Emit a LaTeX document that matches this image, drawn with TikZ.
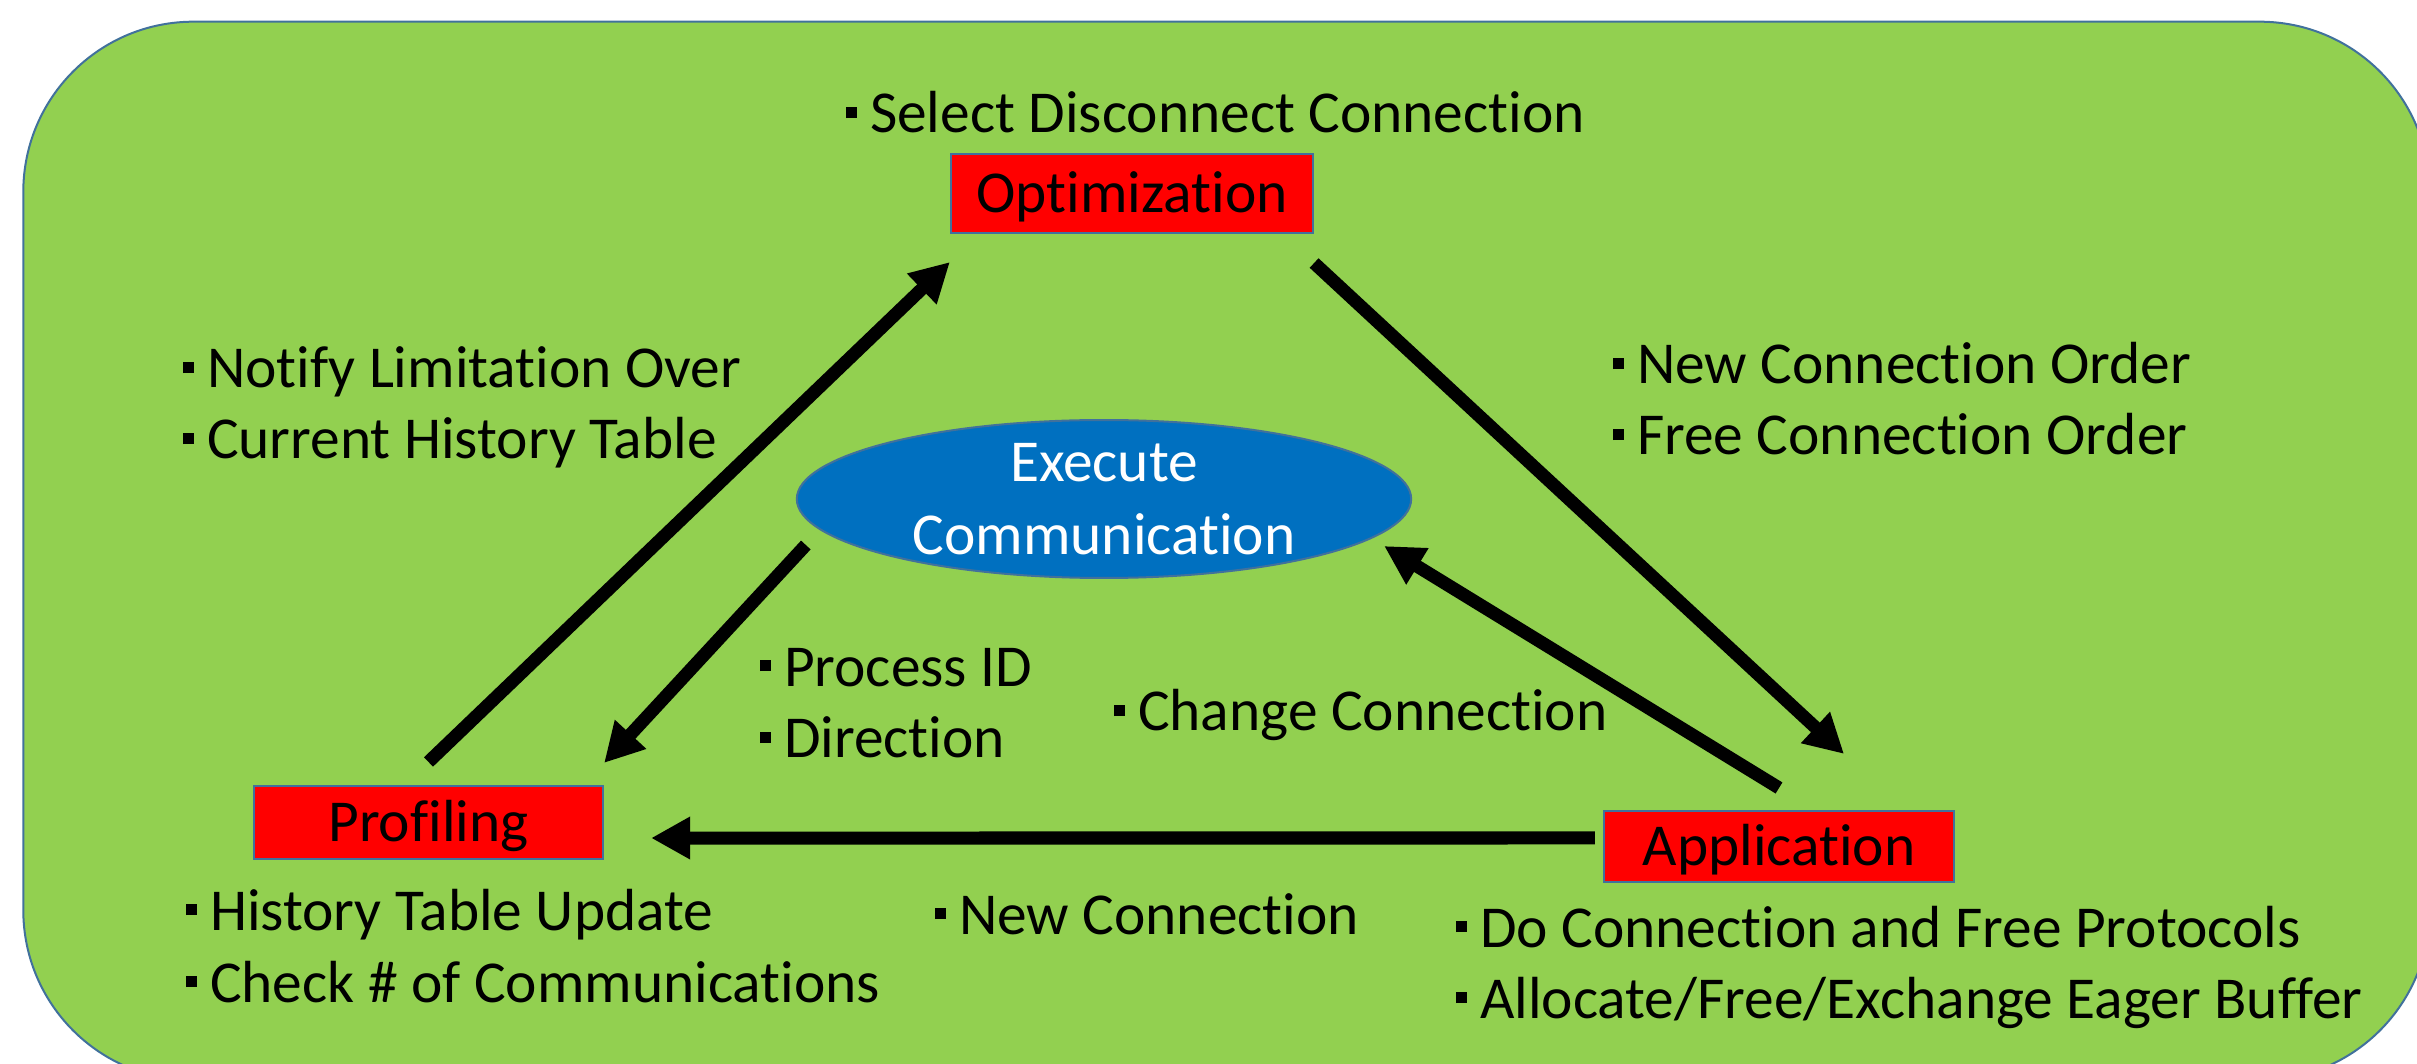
\documentclass[tikz,border=0pt]{standalone}
\usepackage{fontspec}
\setmainfont{Carlito}[RawFeature={-liga;-clig;-dlig;-calt}]
\usetikzlibrary{arrows.meta,shapes.geometric}
\definecolor{bggreen}{HTML}{92D050}
\definecolor{boxred}{HTML}{FF0000}
\definecolor{ellblue}{HTML}{0070C0}
\definecolor{edgeblue}{HTML}{41719C}
\newcommand{\bul}{\rule[0.25em]{0.19em}{0.19em}\hspace{0.22em}}
\tikzset{
  stagebox/.style={draw=edgeblue, line width=0.02cm, fill=boxred, minimum width=#1, inner sep=0pt, text height=0.42cm, text depth=0.04cm},
  stagebox/.default=3.5cm,
  bullettext/.style={anchor=base west, inner sep=0pt, text=black},
  flow/.style={line width=0.13cm, -{Triangle[length=0.39cm,width=0.40cm]}},
}
\begin{document}
\begin{tikzpicture}[x=0.01cm, y=-0.01cm, font=\fontsize{16.9pt}{20.8pt}\selectfont]
\useasboundingbox (0,0) rectangle (2417,1064);
\clip (0,0) rectangle (2417,1064);
% background panel
\node[draw=edgeblue, line width=0.02cm, fill=bggreen, rounded corners=1.7cm, inner sep=0pt,
      minimum width=24.05cm, minimum height=10.58cm] (panel) at (1226.5,551) {};
% stages
\node[stagebox=3.62cm, minimum height=0.79cm] (opt) at (1132,193.5) {Optimization};
\node[stagebox=3.49cm, minimum height=0.73cm] (prof) at (428.5,822.5) {Profiling};
\node[stagebox=3.50cm, minimum height=0.71cm] (app) at (1779,846.5) {Application};
\node[ellipse, draw=edgeblue, line width=0.02cm, fill=ellblue, text=white, align=center,
      minimum width=6.14cm, minimum height=1.52cm, inner sep=0pt] (ell) at (1104,499)
      {Execute\\Communication};
% texts
\node[bullettext] (sel) at (845,133) {\bul Select Disconnect Connection};
\node[bullettext] (n1) at (182,388) {\bul Notify Limitation Over};
\node[bullettext] (n2) at (182,459) {\bul Current History Table};
\node[bullettext] (o1) at (1612,384) {\bul New Connection Order};
\node[bullettext] (o2) at (1612,455) {\bul Free Connection Order};
\node[bullettext] (p1) at (759,686) {\bul Process ID};
\node[bullettext] (p2) at (759,758) {\bul Direction};
\node[bullettext] (c1) at (1113,731) {\bul Change Connection};
\node[bullettext] (h1) at (185,930) {\bul History Table Update};
\node[bullettext] (h2) at (185,1002) {\bul Check \# of Communications};
\node[bullettext] (nc) at (934,934) {\bul New Connection};
\node[bullettext] (d1) at (1455,947) {\bul Do Connection and Free Protocols};
\node[bullettext] (d2) at (1455,1018) {\bul Allocate/Free/Exchange Eager Buffer};
% connectors
\draw[flow] ([yshift=0.23cm]prof.north) -- ([yshift=-0.28cm]opt.south west);
\draw[flow] ([yshift=-0.29cm]opt.south east) -- ([xshift=0.65cm,yshift=0.56cm]app.north);
\draw[flow] ([yshift=0.22cm]app.north) -- ([xshift=-0.28cm,yshift=-0.47cm]ell.east);
\draw[flow] ([xshift=-0.08cm,yshift=0.085cm]app.west) -- ([xshift=0.47cm,yshift=-0.155cm]prof.east);
\draw[flow] ([xshift=0.10cm,yshift=-0.46cm]ell.west) -- ([yshift=0.22cm]prof.north east);
\end{tikzpicture}
\end{document}
